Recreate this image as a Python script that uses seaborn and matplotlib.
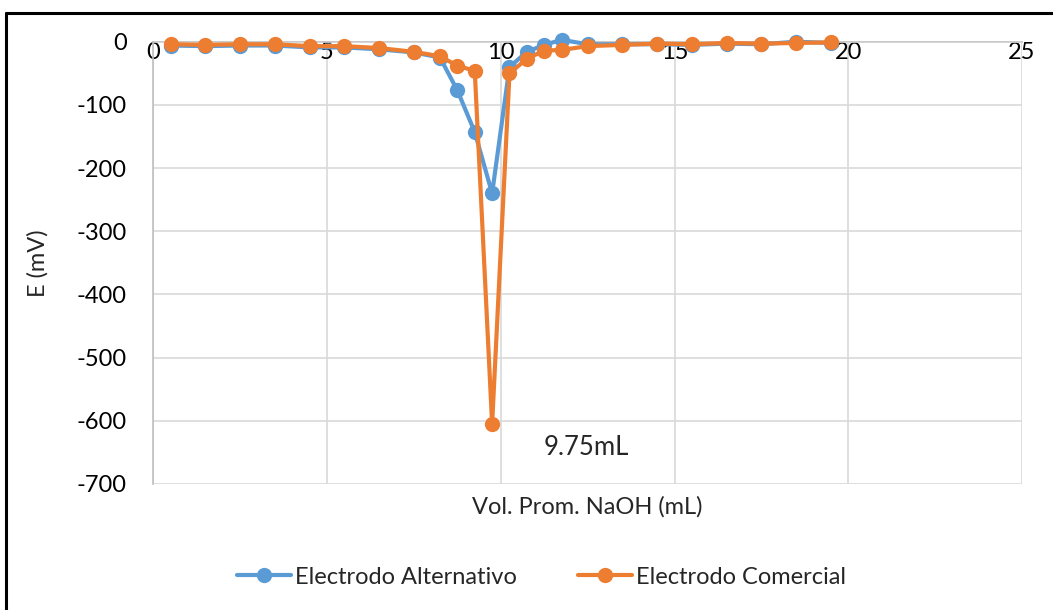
import numpy as np
import pandas as pd
import matplotlib
matplotlib.use("Agg")
import matplotlib.pyplot as plt
import seaborn as sns
from matplotlib.lines import Line2D

# volumes (mL) and potentials (mV)
vol = [0.5, 1.5, 2.5, 3.5, 4.5, 5.5, 6.5, 7.5, 8.25, 8.75, 9.25, 9.75,
       10.25, 10.75, 11.25, 11.75, 12.5, 13.5, 14.5, 15.5, 16.5, 17.5, 18.5, 19.5]
e_alternativo = [-6, -7, -6, -6, -9, -9, -12, -17, -25, -77, -143, -240,
                 -40, -16, -5, 3, -4, -4, -4, -5, -3, -4, 0, -2]
e_comercial = [-4, -5, -4, -4, -7, -7, -10, -16, -23, -38, -46, -605,
               -50, -27, -14, -13, -7, -5, -3, -4, -2, -3, -2, -1]

df = pd.DataFrame({
    "vol": vol * 2,
    "E": e_alternativo + e_comercial,
    "serie": ["Electrodo Alternativo"] * len(vol) + ["Electrodo Comercial"] * len(vol),
})

sns.set_style("white")
plt.rcParams["font.family"] = ["Lato", "DejaVu Sans"]
plt.rcParams["axes.unicode_minus"] = False

colors = {"Electrodo Alternativo": "#5B9BD5", "Electrodo Comercial": "#ED7D31"}
fs = 17

fig = plt.figure(figsize=(10.53, 6.10), dpi=100)
ax = fig.add_axes([0.1456, 0.2066, 0.8250, 0.7250])

sns.lineplot(data=df, x="vol", y="E", hue="serie", palette=colors, marker="o",
             markersize=11, markeredgewidth=0, linewidth=3, sort=False,
             estimator=None, legend=False, ax=ax)
for ln in ax.lines:
    ln.set_clip_on(False)

ax.set_xlim(0, 25)
ax.set_ylim(-700, 0)
ax.set_xticks(np.arange(0, 26, 5))
ax.set_yticks(np.arange(-700, 1, 100))
ax.grid(True, color="#D9D9D9", linewidth=1.2)
ax.set_axisbelow(True)

for s in ["top", "right"]:
    ax.spines[s].set_visible(False)
ax.spines["bottom"].set_position(("data", 0))
ax.spines["bottom"].set_color("#BFBFBF")
ax.spines["left"].set_color("#BFBFBF")
ax.spines["bottom"].set_linewidth(1.2)
ax.spines["left"].set_linewidth(1.2)
ax.spines["bottom"].set_zorder(0.5)
ax.tick_params(axis="both", length=0, labelsize=fs, labelcolor="black")
ax.tick_params(axis="x", pad=0)
ax.tick_params(axis="y", pad=19)

ax.set_xlabel("Vol. Prom. NaOH (mL)", fontsize=fs)
ax.xaxis.set_label_coords(0.5, -0.028)
ax.set_ylabel("E (mV)", fontsize=fs)
ax.yaxis.set_label_coords(-0.12, 0.5)

ax.text(12.45, -643, "9.75mL", fontsize=18.5, ha="center", va="center")

handles = [Line2D([0], [0], color=colors[k], marker="o", markersize=11,
                  markeredgewidth=0, linewidth=3) for k in colors]
fig.legend(handles, list(colors), loc="center", bbox_to_anchor=(0.514, 0.054),
           ncol=2, frameon=False, fontsize=fs, handlelength=2.3,
           handletextpad=0.15, columnspacing=2.6)

# outer chart frame (top and left edges visible)
fig.add_artist(Line2D([6 / 1053, 6 / 1053], [0, 1 - 13 / 610], color="black",
                      linewidth=2.2, transform=fig.transFigure))
fig.add_artist(Line2D([6 / 1053, 1], [1 - 13 / 610, 1 - 13 / 610], color="black",
                      linewidth=2.2, transform=fig.transFigure))

fig.savefig("out.png", dpi=100)
